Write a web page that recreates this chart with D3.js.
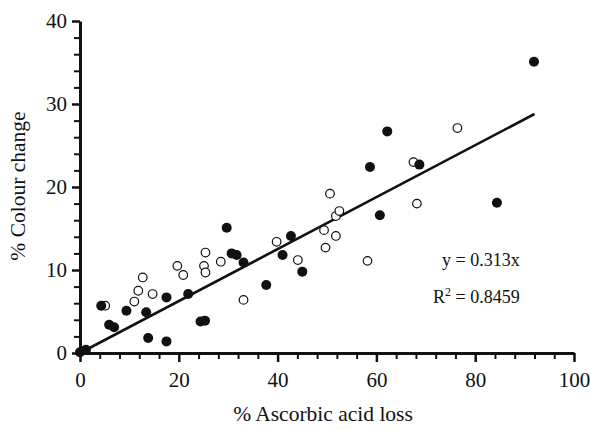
<!DOCTYPE html>
<html>
<head>
<meta charset="utf-8">
<script src="https://cdn.jsdelivr.net/npm/d3@7"></script>
<style>
  html, body { margin: 0; padding: 0; background: #fff; }
  svg { display: block; }
  text { font-family: "Liberation Serif", "Times New Roman", serif; fill: #111; }
</style>
</head>
<body>
<script>
// ---- data ----
const filledX = [0, 1.2, 4.3, 5.9, 6.9, 9.4, 13.4, 13.8, 17.5, 17.5, 21.9, 24.4, 25.3, 29.7, 30.7, 31.7, 33.1, 37.7, 41.0, 42.7, 45.0, 58.7, 60.7, 62.2, 68.7, 84.4, 91.9];
const filledY = [0.1, 0.4, 5.7, 3.4, 3.1, 5.1, 4.9, 1.8, 6.7, 1.4, 7.1, 3.8, 3.9, 15.1, 12.0, 11.8, 10.9, 8.2, 11.8, 14.1, 9.8, 22.4, 16.6, 26.7, 22.7, 18.1, 35.1];
const openX = [5.1, 11.0, 11.8, 12.7, 14.7, 19.7, 20.9, 25.4, 25.1, 25.4, 28.5, 33.1, 39.8, 44.1, 49.4, 49.7, 50.6, 51.8, 51.8, 52.5, 58.2, 67.5, 68.2, 76.4];
const openY = [5.7, 6.2, 7.5, 9.1, 7.1, 10.5, 9.4, 12.1, 10.5, 9.7, 11.0, 6.4, 13.4, 11.2, 14.8, 12.7, 19.2, 16.5, 14.1, 17.1, 11.1, 23.0, 18.0, 27.1];
const slope = 0.313;
const fitRange = [0, 92];
const xMajorTicks = [0, 20, 40, 60, 80, 100];
const yMajorTicks = [0, 10, 20, 30, 40];
const xMinorTicks = d3.range(0, 101, 4).filter(v => v % 20 !== 0);
const yMinorTicks = d3.range(0, 41, 2).filter(v => v % 10 !== 0);
const xTitle = "% Ascorbic acid loss";
const yTitle = "% Colour change";
const eqText = "y = 0.313x";
const r2Value = "0.8459";

// ---- chart ----
const W = 590, H = 429;
const svg = d3.select("body").append("svg").attr("width", W).attr("height", H);

const x = d3.scaleLinear().domain([0, 100]).range([80, 574]);
const y = d3.scaleLinear().domain([0, 40]).range([353, 21]);

// minor ticks
const xMinor = svg.append("g").attr("transform", `translate(0,${y(0)})`)
  .call(d3.axisBottom(x).tickValues(xMinorTicks).tickSize(6).tickFormat(""));
const yMinor = svg.append("g").attr("transform", `translate(${x(0)},0)`)
  .call(d3.axisLeft(y).tickValues(yMinorTicks).tickSize(6).tickFormat(""));
[xMinor, yMinor].forEach(g => {
  g.select(".domain").remove();
  g.selectAll(".tick line").attr("stroke", "#111").attr("stroke-width", 2);
});

// major axes
const xAxis = svg.append("g").attr("transform", `translate(0,${y(0)})`)
  .call(d3.axisBottom(x).tickValues(xMajorTicks).tickSize(9).tickSizeOuter(0).tickPadding(10));
const yAxis = svg.append("g").attr("transform", `translate(${x(0)},0)`)
  .call(d3.axisLeft(y).tickValues(yMajorTicks).tickSize(8).tickSizeOuter(0).tickPadding(5));
[xAxis, yAxis].forEach(g => {
  g.select(".domain").attr("stroke", "#111").attr("stroke-width", 3);
  g.selectAll(".tick line").attr("stroke", "#111").attr("stroke-width", 2.5);
  g.selectAll(".tick text").attr("font-family", "Liberation Serif, Times New Roman, serif")
    .attr("font-size", 21).attr("fill", "#111");
});

// regression line
svg.append("line")
  .attr("x1", x(fitRange[0])).attr("y1", y(slope * fitRange[0]))
  .attr("x2", x(fitRange[1])).attr("y2", y(slope * fitRange[1]))
  .attr("stroke", "#111").attr("stroke-width", 2.6);

// open circles
svg.append("g").selectAll("circle").data(d3.range(openX.length)).join("circle")
  .attr("cx", i => x(openX[i])).attr("cy", i => y(openY[i]))
  .attr("r", 4.3).attr("fill", "#fff").attr("stroke", "#111").attr("stroke-width", 1.2);

// filled circles
svg.append("g").selectAll("circle").data(d3.range(filledX.length)).join("circle")
  .attr("cx", i => x(filledX[i])).attr("cy", i => y(filledY[i]))
  .attr("r", 5).attr("fill", "#111");

// titles
svg.append("text").attr("x", 323).attr("y", 421)
  .attr("text-anchor", "middle").attr("font-size", 21.5).text(xTitle);
svg.append("text").attr("transform", `translate(25,${(y(0) + y(40)) / 2 - 1}) rotate(-90)`)
  .attr("text-anchor", "middle").attr("font-size", 21.5).text(yTitle);

// equation
svg.append("text").attr("x", 442).attr("y", 266).attr("font-size", 18).text(eqText);
const r2 = svg.append("text").attr("x", 433).attr("y", 303).attr("font-size", 18);
r2.append("tspan").text("R");
r2.append("tspan").attr("font-size", 12).attr("dy", -7).text("2");
r2.append("tspan").attr("dy", 7).text(" = " + r2Value);
</script>
</body>
</html>
